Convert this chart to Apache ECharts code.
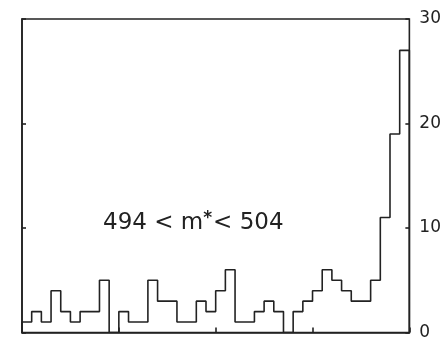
<!DOCTYPE html>
<html>
<head>
<meta charset="utf-8">
<script src="https://cdn.jsdelivr.net/npm/echarts@6/dist/echarts.min.js"></script>
<style>
html,body{margin:0;padding:0;background:#fff;}
#chart{width:444px;height:341px;}
</style>
</head>
<body>
<div id="chart"></div>
<script>
// Histogram counts per bin (40 bins, left to right)
var counts = [1,2,1,4,2,1,2,2,5,0,
              2,1,1,5,3,3,1,1,3,2,
              4,6,1,1,2,3,2,0,2,3,
              4,6,5,4,3,3,5,11,19,27];
var yTicks = [0,10,20,30];
var xTicks = [0,10,20,30,40];
var labelParts = ['494 < m', '*', '< 504'];

var ink = '#222';
var pts = [[0,0]];
for (var i = 0; i < counts.length; i++) pts.push([i, counts[i]]);
pts.push([counts.length, counts[counts.length-1]]);
pts.push([counts.length, 0]);

var chart = echarts.init(document.getElementById('chart'));
chart.setOption({
  animation: false,
  backgroundColor: '#fff',
  grid: {left: 22, top: 19, width: 388, height: 317, show: true, borderColor: ink, borderWidth: 1.6, backgroundColor: 'transparent'},
  xAxis: {
    type: 'value', min: xTicks[0], max: xTicks[xTicks.length-1], interval: 10,
    axisLine: {show: true, lineStyle: {color: ink, width: 1.6}},
    axisTick: {show: true, inside: true, length: 5, lineStyle: {color: ink, width: 1.6}},
    axisLabel: {show: false}, splitLine: {show: false}
  },
  yAxis: [{
    type: 'value', position: 'right', min: yTicks[0], max: yTicks[yTicks.length-1], interval: 10,
    axisLine: {show: true, lineStyle: {color: ink, width: 1.6}},
    axisTick: {show: true, inside: false, length: 4, lineStyle: {color: ink, width: 1.6}},
    axisLabel: {show: true, margin: 10, color: ink, fontFamily: 'DejaVu Sans', fontSize: 17},
    splitLine: {show: false}
  },{
    type: 'value', position: 'right', min: yTicks[0], max: yTicks[yTicks.length-1], interval: 10,
    axisLine: {show: false},
    axisTick: {show: true, inside: true, length: 4, lineStyle: {color: ink, width: 1.6}},
    axisLabel: {show: false}, splitLine: {show: false}
  }],
  graphic: [{
    type: 'text', left: 103, top: 210,
    style: {
      text: '{a|' + labelParts[0] + '}{s|' + labelParts[1] + '}{a|' + labelParts[2] + '}',
      rich: {
        a: {fontFamily: 'DejaVu Sans', fontSize: 23, fill: ink, color: ink},
        s: {fontFamily: 'DejaVu Sans', fontSize: 17, fontWeight: 'bold', fill: ink, color: ink, verticalAlign: 'top', padding: [0,1,10,0]}
      }
    }
  }],
  series: [{
    type: 'line', step: 'end', data: pts, symbol: 'none',
    lineStyle: {color: ink, width: 1.6}, silent: true
  }]
});
</script>
</body>
</html>
